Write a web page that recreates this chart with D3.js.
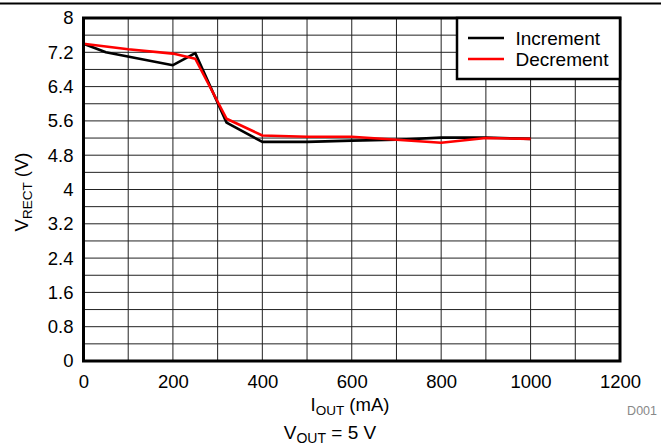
<!DOCTYPE html>
<html><head><meta charset="utf-8">
<script src="https://cdn.jsdelivr.net/npm/d3@7"></script>
<style>body{margin:0;background:#fff}svg{display:block;font-family:Arial,"Liberation Sans",sans-serif}</style>
</head><body><svg id="c" width="665" height="446"></svg>
<script>
const xTicks = [0,200,400,600,800,1000,1200];
const yTicks = [0,0.8,1.6,2.4,3.2,4,4.8,5.6,6.4,7.2,8];
const incX = [0,50,200,250,320,400,500,600,700,800,900,1000];
const incY = [7.4,7.2,6.9,7.18,5.56,5.11,5.11,5.14,5.16,5.21,5.21,5.18];
const decX = [0,100,200,250,320,400,500,600,700,800,900,1000];
const decY = [7.4,7.27,7.17,7.05,5.65,5.26,5.23,5.23,5.16,5.09,5.2,5.18];
const seriesNames = ["Increment","Decrement"];
const seriesColors = ["#000000","#ff0000"];

const svg = d3.select("#c");
const L=83.5, R=620, T=18, B=361;
const x = d3.scaleLinear().domain([0,1200]).range([L,R]);
const y = d3.scaleLinear().domain([0,8]).range([B,T]);

// top rule
svg.append("line").attr("x1",0).attr("x2",661).attr("y1",3.5).attr("y2",3.5).attr("stroke","#000").attr("stroke-width",2);

// grid
const g = svg.append("g");
g.selectAll(".vx").data(d3.range(100,1200,100)).join("line")
  .attr("x1",d=>x(d)).attr("x2",d=>x(d)).attr("y1",T).attr("y2",B)
  .attr("stroke","#222").attr("stroke-width",1);
g.selectAll(".hy").data(d3.range(1,20).map(i=>i*0.4)).join("line")
  .attr("x1",L).attr("x2",R).attr("y1",d=>y(d)).attr("y2",d=>y(d))
  .attr("stroke","#222").attr("stroke-width",1);

// axes labels via d3 axes
const xa = svg.append("g").attr("transform",`translate(0,${B})`)
  .call(d3.axisBottom(x).tickValues(xTicks).tickSize(0).tickPadding(14).tickFormat(d3.format("d")));
xa.select(".domain").remove();
xa.selectAll("text").attr("font-size",18.5).attr("font-family","Arial, 'Liberation Sans', sans-serif").attr("fill","#000");
const ya = svg.append("g").attr("transform",`translate(${L},0)`)
  .call(d3.axisLeft(y).tickValues(yTicks).tickSize(0).tickPadding(10).tickFormat(d=>String(+d.toFixed(1))));
ya.select(".domain").remove();
ya.selectAll("text").attr("font-size",18.5).attr("font-family","Arial, 'Liberation Sans', sans-serif").attr("fill","#000");

// data lines
const line = d3.line().x(d=>x(d[0])).y(d=>y(d[1]));
const inc = incX.map((v,i)=>[v,incY[i]]);
const dec = decX.map((v,i)=>[v,decY[i]]);
[inc,dec].forEach((s,i)=>{
  svg.append("path").datum(s).attr("d",line).attr("fill","none")
    .attr("stroke",seriesColors[i]).attr("stroke-width",2.6).attr("stroke-linejoin","round");
});

// border
svg.append("rect").attr("x",L).attr("y",T).attr("width",R-L).attr("height",B-T)
  .attr("fill","none").attr("stroke","#000").attr("stroke-width",3);

// legend
const lg = svg.append("g");
lg.append("rect").attr("x",457).attr("y",T).attr("width",R-457).attr("height",61)
  .attr("fill","#fff").attr("stroke","#000").attr("stroke-width",2.5);
seriesNames.forEach((n,i)=>{
  const yy = 38 + i*21;
  lg.append("line").attr("x1",468).attr("x2",504).attr("y1",yy).attr("y2",yy)
    .attr("stroke",seriesColors[i]).attr("stroke-width",2.6);
  lg.append("text").attr("x",515.5).attr("y",yy).attr("dy","0.35em")
    .attr("font-size",19).text(n);
});

// axis titles
const yt = svg.append("text").attr("transform","translate(28,192) rotate(-90)")
  .attr("text-anchor","middle").attr("font-size",18.5);
yt.append("tspan").text("V");
yt.append("tspan").attr("font-size",13.5).attr("dy",4).text("RECT");
yt.append("tspan").attr("dy",-4).text(" (V)");

const xt = svg.append("text").attr("x",350).attr("y",411)
  .attr("text-anchor","middle").attr("font-size",18.5);
xt.append("tspan").text("I");
xt.append("tspan").attr("font-size",13.5).attr("dy",4).text("OUT");
xt.append("tspan").attr("dy",-4).text(" (mA)");

svg.append("text").attr("x",657).attr("y",415).attr("text-anchor","end")
  .attr("font-size",12.5).attr("fill","#888").text("D001");

const vt = svg.append("text").attr("x",330).attr("y",439)
  .attr("text-anchor","middle").attr("font-size",19);
vt.append("tspan").text("V");
vt.append("tspan").attr("font-size",14).attr("dy",4).text("OUT");
vt.append("tspan").attr("dy",-4).text(" = 5 V");
</script></body></html>
